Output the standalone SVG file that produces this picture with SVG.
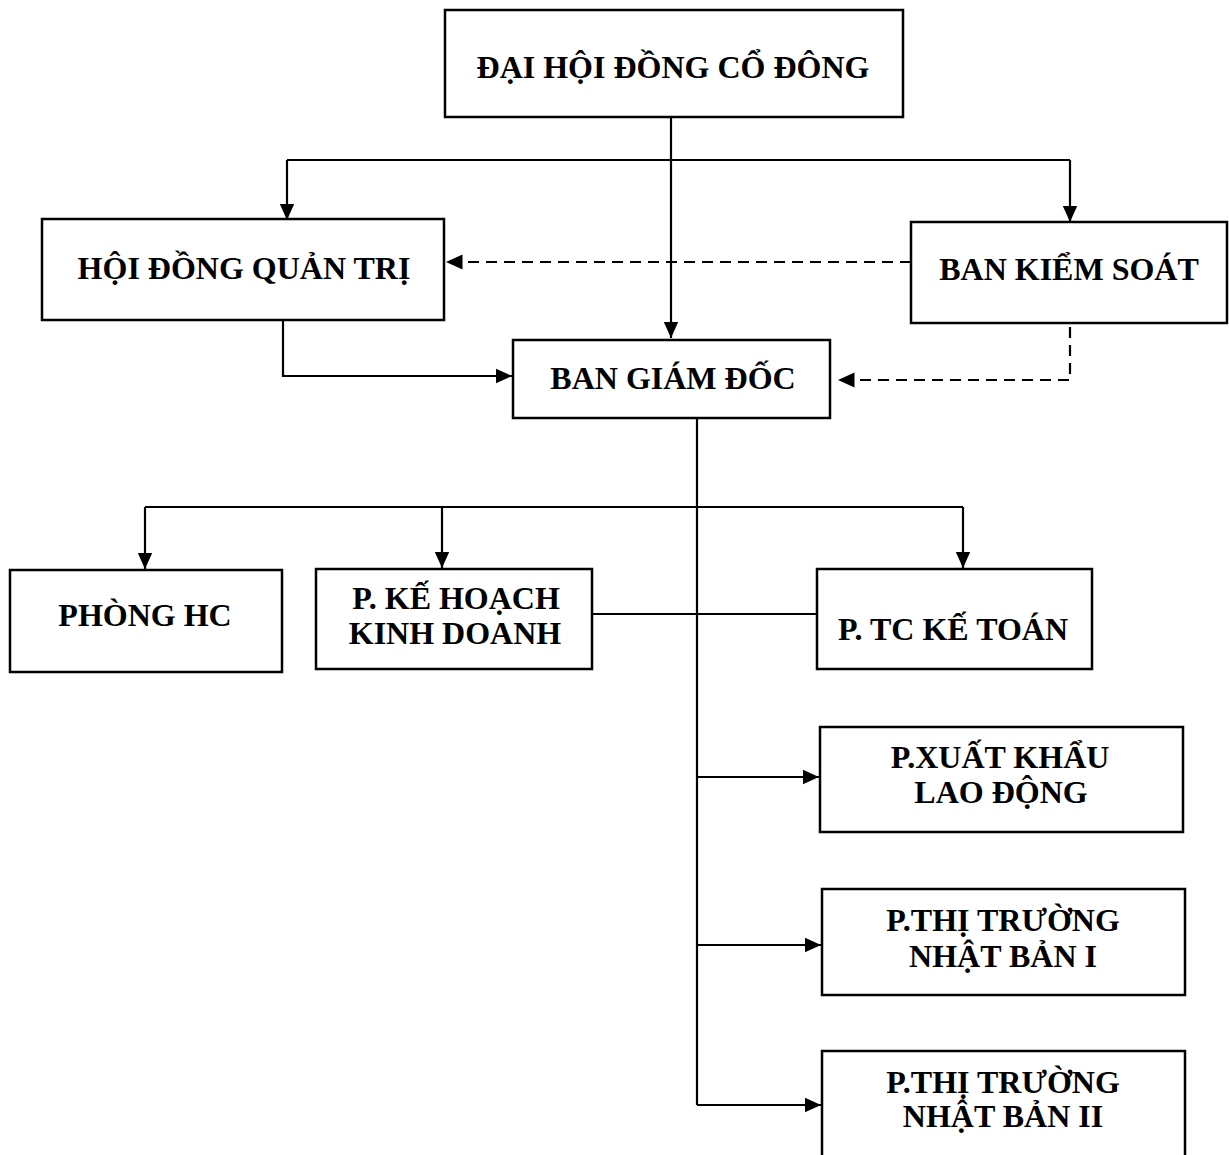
<svg xmlns="http://www.w3.org/2000/svg" width="1229" height="1155" viewBox="0 0 1229 1155">
<style>
.box{fill:#fff;stroke:#000;stroke-width:2.5}
.t{font-family:"Liberation Serif","Times New Roman",serif;font-weight:bold;font-size:32px;fill:#000;text-anchor:middle}
.c{fill:none;stroke:#000;stroke-width:2.2}
.d{fill:none;stroke:#000;stroke-width:2.2;stroke-dasharray:11,7}
</style>
<defs>
<marker id="a" viewBox="0 0 10 10" refX="10" refY="5" markerWidth="7.5" markerHeight="7.5" markerUnits="strokeWidth" orient="auto">
<path d="M0,0.5 L10,5 L0,9.5 Z" fill="#000"/>
</marker>
</defs>
<rect width="1229" height="1155" fill="#fff"/>
<g id="connectors">
<path class="c" d="M671,117 V338" marker-end="url(#a)"/>
<path class="c" d="M287,160 H1070"/>
<path class="c" d="M287,160 V220" marker-end="url(#a)"/>
<path class="c" d="M1070,160 V222" marker-end="url(#a)"/>
<path class="d" d="M911,262 H446" marker-end="url(#a)"/>
<path class="c" d="M283,320 V376 H512" marker-end="url(#a)"/>
<path class="d" d="M1070,327 V380 H838" marker-end="url(#a)"/>
<path class="c" d="M697,418 V1105"/>
<path class="c" d="M145,507 H963"/>
<path class="c" d="M145,507 V569" marker-end="url(#a)"/>
<path class="c" d="M442,507 V568" marker-end="url(#a)"/>
<path class="c" d="M963,507 V568" marker-end="url(#a)"/>
<path class="c" d="M592,614 H822"/>
<path class="c" d="M697,777 H819" marker-end="url(#a)"/>
<path class="c" d="M697,945 H821" marker-end="url(#a)"/>
<path class="c" d="M697,1105 H821" marker-end="url(#a)"/>
</g>
<g id="dhdcd"><rect class="box" x="445" y="10" width="458" height="107"/><text class="t" x="673" y="78">ĐẠI HỘI ĐỒNG CỔ ĐÔNG</text></g>
<g id="hdqt"><rect class="box" x="42" y="219" width="402" height="101"/><text class="t" x="244" y="279">HỘI ĐỒNG QUẢN TRỊ</text></g>
<g id="bks"><rect class="box" x="911" y="222" width="316" height="101"/><text class="t" x="1069" y="280">BAN KIỂM SOÁT</text></g>
<g id="bgd"><rect class="box" x="513" y="340" width="317" height="78"/><text class="t" x="673" y="389">BAN GIÁM ĐỐC</text></g>
<g id="phc"><rect class="box" x="10" y="570" width="272" height="102"/><text class="t" x="145" y="626">PHÒNG HC</text></g>
<g id="khkd"><rect class="box" x="316" y="569" width="276" height="100"/><text class="t" x="456" y="609">P. KẾ HOẠCH</text><text class="t" x="455" y="644">KINH DOANH</text></g>
<g id="tckt"><rect class="box" x="817" y="569" width="275" height="100"/><text class="t" x="953" y="640">P. TC KẾ TOÁN</text></g>
<g id="xkld"><rect class="box" x="820" y="727" width="363" height="105"/><text class="t" x="1000" y="768">P.XUẤT KHẨU</text><text class="t" x="1001" y="803">LAO ĐỘNG</text></g>
<g id="ttnb1"><rect class="box" x="822" y="889" width="363" height="106"/><text class="t" x="1003" y="931">P.THỊ TRƯỜNG</text><text class="t" x="1003" y="967">NHẬT BẢN I</text></g>
<g id="ttnb2"><rect class="box" x="822" y="1051" width="363" height="110"/><text class="t" x="1003" y="1093">P.THỊ TRƯỜNG</text><text class="t" x="1003" y="1127">NHẬT BẢN II</text></g>
</svg>
